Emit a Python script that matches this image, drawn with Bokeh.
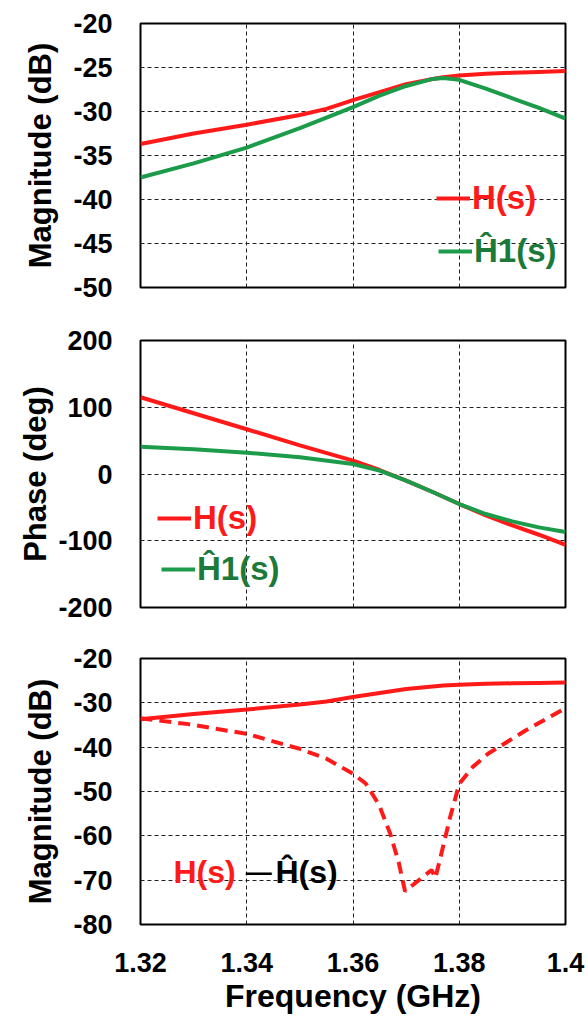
from bokeh.plotting import figure
from bokeh.layouts import column
from bokeh.models import Range1d, FixedTicker, Legend, LegendItem, Label
from bokeh.core.properties import value
from bokeh.embed import file_html
from bokeh.resources import INLINE

# ---------------- data ----------------
x_ticks = [1.32, 1.34, 1.36, 1.38, 1.40]
x_tick_labels = ["1.32", "1.34", "1.36", "1.38", "1.4"]

mag_ticks = [-50, -45, -40, -35, -30, -25, -20]
mag_tick_labels = ["-50", "-45", "-40", "-35", "-30", "-25", "-20"]
phase_ticks = [-200, -100, 0, 100, 200]
phase_tick_labels = ["-200", "-100", "0", "100", "200"]
err_ticks = [-80, -70, -60, -50, -40, -30, -20]
err_tick_labels = ["-80", "-70", "-60", "-50", "-40", "-30", "-20"]

freq_mag = [1.32, 1.33, 1.34, 1.35, 1.355, 1.36, 1.365, 1.37, 1.375, 1.377, 1.38, 1.385, 1.39, 1.395, 1.40]
H_mag = [-33.7, -32.5, -31.5, -30.4, -29.7, -28.7, -27.8, -26.9, -26.3, -26.1, -25.9, -25.7, -25.6, -25.5, -25.4]
H1_mag = [-37.5, -35.9, -34.1, -31.9, -30.7, -29.5, -28.2, -27.1, -26.3, -26.2, -26.4, -27.4, -28.5, -29.6, -30.8]

freq_ph = [1.32, 1.33, 1.34, 1.35, 1.36, 1.365, 1.37, 1.375, 1.38, 1.385, 1.39, 1.395, 1.40]
H_ph = [115, 91, 67, 43, 20, 6, -10, -27, -45, -62, -77, -91, -106]
H1_ph = [41, 37, 32, 25, 15, 5, -10, -27, -45, -60, -71, -80, -87]

freq_err = [1.32, 1.329, 1.34, 1.35, 1.355, 1.36, 1.3624, 1.3649, 1.367, 1.3686, 1.3698,
            1.3748, 1.3755, 1.3765, 1.3783, 1.38, 1.3825, 1.3854, 1.3924, 1.40]
err_mag = [-33.5, -34.8, -37.0, -40.4, -42.6, -46.0, -48.2, -53.0, -59.5, -66.0, -72.5,
           -67.7, -69.5, -64.7, -55.7, -48.3, -44.5, -41.5, -36.3, -31.2]

# ---------------- style ----------------
FONT = "Liberation Sans"
RED = "#ff1a1a"
GREEN = "#1c9c4a"
GREEN_TXT = "#1b7a3a"
LW = 4


def make_fig(height, top, bottom, yr, yticks, ylabels, ylabel, label_standoff, show_x):
    p = figure(width=588, height=height,
               x_range=Range1d(1.32, 1.40), y_range=Range1d(*yr),
               output_backend="svg", toolbar_location=None,
               min_border_left=140, min_border_right=23,
               min_border_top=top, min_border_bottom=bottom)
    p.outline_line_color = "black"
    p.outline_line_width = 2
    p.background_fill_color = "white"
    p.border_fill_color = "white"

    xt = FixedTicker(ticks=x_ticks)
    yt = FixedTicker(ticks=yticks)
    p.xaxis.ticker = xt
    p.yaxis.ticker = yt
    p.xgrid.ticker = xt
    p.ygrid.ticker = yt
    for g in (p.xgrid, p.ygrid):
        g.grid_line_color = "#222222"
        g.grid_line_dash = "4 3"
        g.grid_line_width = 1

    for ax in (p.xaxis, p.yaxis):
        ax.axis_line_color = None
        ax.major_tick_line_color = None
        ax.minor_tick_line_color = None
        ax.major_label_text_font = FONT
        ax.major_label_text_font_style = "bold"
        ax.major_label_text_font_size = "27px"
        ax.major_label_text_color = "black"
        ax.axis_label_text_font = FONT
        ax.axis_label_text_font_style = "bold"
        ax.axis_label_text_font_size = "31px"
        ax.axis_label_text_color = "black"
        ax.major_label_standoff = 22

    p.yaxis.major_label_overrides = dict(zip(yticks, ylabels))
    p.yaxis.axis_label = ylabel
    p.yaxis.axis_label_standoff = label_standoff
    if show_x:
        p.xaxis.major_label_overrides = dict(zip(x_ticks, x_tick_labels))
        p.xaxis.axis_label = "Frequency (GHz)"
        p.xaxis.axis_label_text_font_size = "32px"
        p.xaxis.axis_label_standoff = 3
    else:
        p.xaxis.visible = False
    return p


def add_legend(p, renderer, label, color, loc):
    leg = Legend(items=[LegendItem(label=value(label), renderers=[renderer])],
                 location=loc, orientation="vertical",
                 background_fill_alpha=0, border_line_alpha=0,
                 padding=0, margin=0, spacing=0, label_standoff=2,
                 glyph_width=34, glyph_height=30, label_height=30,
                 label_text_font=FONT, label_text_font_style="bold",
                 label_text_font_size="33px", label_text_color=color)
    p.add_layout(leg)


# Panel 1: magnitude
p1 = make_fig(315, 23, 28, (-50, -20), mag_ticks, mag_tick_labels, "Magnitude (dB)", 12, False)
r1 = p1.line(freq_mag, H_mag, line_color=RED, line_width=LW)
g1 = p1.line(freq_mag, H1_mag, line_color=GREEN, line_width=LW)
add_legend(p1, r1, "H(s)", RED, (296, 70))
add_legend(p1, g1, "\u01241(s)", GREEN_TXT, (298, 17))

# Panel 2: phase
p2 = make_fig(320, 25, 28, (-200, 200), phase_ticks, phase_tick_labels, "Phase (deg)", 2, False)
r2 = p2.line(freq_ph, H_ph, line_color=RED, line_width=LW)
g2 = p2.line(freq_ph, H1_ph, line_color=GREEN, line_width=LW)
add_legend(p2, r2, "H(s)", RED, (17, 70))
add_legend(p2, g2, "\u01241(s)", GREEN_TXT, (21, 19))

# Panel 3: error magnitude
p3 = make_fig(381, 23, 91, (-80, -20), err_ticks, err_tick_labels, "Magnitude (dB)", 12, True)
p3.line(freq_mag, H_mag, line_color=RED, line_width=LW)
p3.line(freq_err, err_mag, line_color=RED, line_width=LW, line_dash="12 7")
p3.add_layout(Label(x=1.3262, y=-68.1, text="H(s)", text_color=RED,
                    text_font=FONT, text_font_style="bold", text_font_size="32px",
                    text_baseline="middle", text_align="left"))
p3.add_layout(Label(x=1.3398, y=-68.1, text="\u2014", text_color="black",
                    text_font=FONT, text_font_style="bold", text_font_size="26px",
                    text_baseline="middle", text_align="left"))
p3.add_layout(Label(x=1.3454, y=-68.1, text="\u0124(s)", text_color="black",
                    text_font=FONT, text_font_style="bold", text_font_size="32px",
                    text_baseline="middle", text_align="left"))

layout = column(p1, p2, p3, spacing=0)
open("out.html", "w").write(file_html(layout, INLINE))
